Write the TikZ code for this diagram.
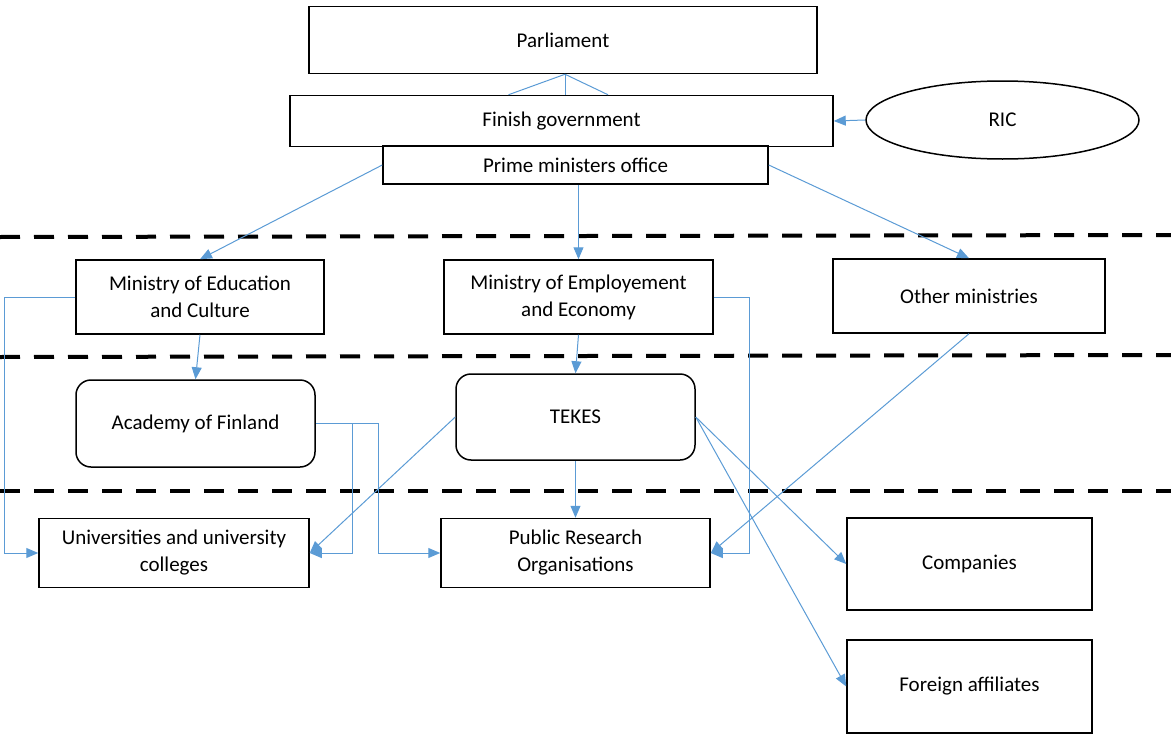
\documentclass[tikz,border=0pt]{standalone}
\usepackage{fontspec}
\setmainfont{Carlito}
\usepackage{xcolor}
\usepackage{tikz}
\usetikzlibrary{shapes,arrows.meta,positioning,calc}
\definecolor{linkblue}{HTML}{5B9BD5}

\begin{document}
\begin{tikzpicture}[x=1pt, y=-1pt,
    box/.style={draw, rectangle, line width=1.5pt, fill=white, align=center, inner sep=2pt,
                font=\fontsize{21}{27}\selectfont},
    roundbox/.style={box, rounded corners=15pt},
    link/.style={draw=linkblue, line width=1pt, -{Triangle[length=12pt, width=10pt]}},
    plainlink/.style={draw=linkblue, line width=1pt},
    sep/.style={line width=4pt, dash pattern=on 20pt off 14pt}]
                \useasboundingbox (0,0) rectangle (1171,736);

                % top level
                \node[box, minimum width=508pt, minimum height=67pt] (parl) at (563,40) {Parliament};
                \node[box, minimum width=543pt, minimum height=51pt] (gov) at (561.5,121) {Finish government};
                \node[box, minimum width=385pt, minimum height=38pt] (pmo) at (575.5,165) {Prime ministers office};
                \node[draw, ellipse, line width=1.5pt, minimum width=273pt, minimum height=78pt,
                      font=\fontsize{21}{27}\selectfont] (ric) at (1002.5,120) {RIC};

                % ministries
                \node[box, minimum width=248pt, minimum height=74pt] (minedu) at (200,297) {Ministry of Education\\and Culture};
                \node[box, minimum width=269pt, minimum height=74pt] (minemp) at (578.5,297) {Ministry of Employement\\and Economy};
                \node[box, minimum width=272pt, minimum height=74pt] (other) at (969,296) {Other ministries};

                % agencies
                \node[roundbox, minimum width=239pt, minimum height=87pt] (academy) at (195.5,423.5) {Academy of Finland};
                \node[roundbox, minimum width=239pt, minimum height=86pt] (tekes) at (575.5,417) {TEKES};

                % performers
                \node[box, minimum width=270pt, minimum height=69pt] (univ) at (174,553) {Universities and university\\colleges};
                \node[box, minimum width=269pt, minimum height=69pt] (pro) at (575.5,553) {Public Research\\Organisations};
                \node[box, minimum width=245pt, minimum height=92pt] (comp) at (969.5,564) {Companies};
                \node[box, minimum width=245pt, minimum height=93pt] (foreign) at (969.5,686.5) {Foreign affiliates};

                % level separators
                \draw[sep] (0,237) -- (1171,235);
                \draw[sep] (0,357) -- (1171,355);
                \draw[sep] (0,491) -- (1171,491);

                \draw[plainlink] ($(parl.south)+(2,0)$) -- ($(gov.north)+(-53,0)$);
                \draw[plainlink] ($(parl.south)+(2,0)$) -- ($(gov.north)+(3.5,0)$);
                \draw[plainlink] ($(parl.south)+(2,0)$) -- ($(gov.north)+(46.5,0)$);
                \draw[link] (ric.west) -- (gov.east);

                \draw[link] (pmo.west) -- (minedu.north);
                \draw[link] (pmo.south -| minemp.north) -- (minemp.north);
                \draw[link] (pmo.east) -- (other.north);

                \draw[link] (minedu.south) -- (academy.north);
                \draw[link] (minemp.south) -- (tekes.north);
                \draw[link] (minedu.west) -- ++(-71,0) |- (univ.west);
                \draw[link] (minemp.east) -- ++(36,0) |- (pro.east);
                \draw[link] (other.south) -- (pro.east);

                \draw[link] (academy.east) -- ++(37,0) |- (univ.east);
                \draw[link] (academy.east) -- ++(63,0) |- (pro.west);
                \draw[link] (tekes.west) -- (univ.east);
                \draw[link] (tekes.south) -- (pro.north);
                \draw[link] (tekes.east) -- (comp.west);
                \draw[link] (tekes.east) -- (foreign.west);
            \end{tikzpicture}
\end{document}
